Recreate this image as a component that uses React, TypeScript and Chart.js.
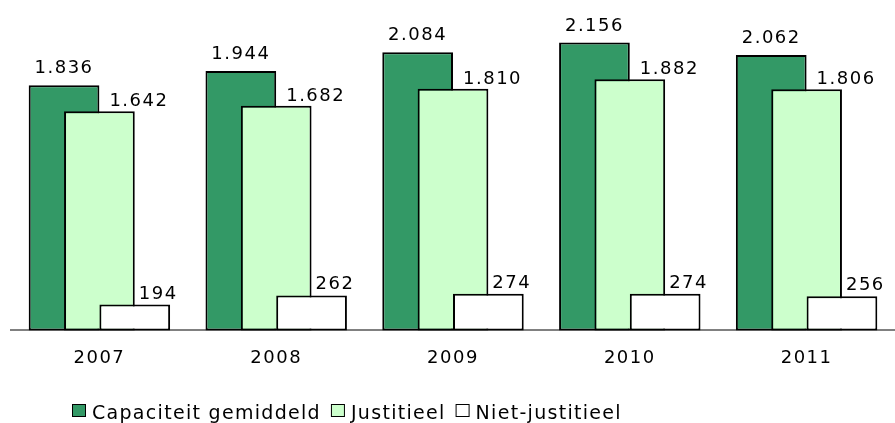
import React, { useEffect, useRef } from "react";
import { Chart, registerables } from "chart.js";

Chart.register(...registerables);

const years = ["2007", "2008", "2009", "2010", "2011"];
const capaciteit = [1836, 1944, 2084, 2156, 2062];
const justitieel = [1642, 1682, 1810, 1882, 1806];
const nietJustitieel = [194, 262, 274, 274, 256];
const seriesNames = ["Capaciteit gemiddeld", "Justitieel", "Niet-justitieel"];

const FONT = "'DejaVu Sans', Verdana, sans-serif";

const fmt = (v: number) => String(v).replace(/\B(?=(\d{3})+(?!\d))/g, ".");

const labelStyle = [
  { align: "center", dx: 0, dy: 12 },
  { align: "left", dx: 10, dy: 5 },
  { align: "left", dx: 4, dy: 6 },
];

const spacingPlugin = {
  id: "spacing",
  beforeDraw(chart: any) {
    chart.ctx.letterSpacing = "1.5px";
  },
};

// draw datasets first-to-last so later series overlap earlier ones
const drawOrderPlugin = {
  id: "drawOrder",
  beforeDatasetsDraw(chart: any) {
    const n = chart.data.datasets.length;
    for (let i = 0; i < n; i++) {
      const meta = chart.getDatasetMeta(i);
      if (meta.visible !== false) meta.controller.draw();
    }
    return false;
  },
};

const dataLabelPlugin = {
  id: "dataLabels",
  afterDraw(chart: any) {
    const ctx = chart.ctx;
    ctx.save();
    ctx.letterSpacing = "1.5px";
    ctx.font = `18px ${FONT}`;
    ctx.fillStyle = "#000";
    ctx.textBaseline = "alphabetic";
    chart.data.datasets.forEach((ds: any, di: number) => {
      const meta = chart.getDatasetMeta(di);
      const st = labelStyle[di];
      ctx.textAlign = st.align;
      meta.data.forEach((el: any, i: number) => {
        ctx.fillText(fmt(ds.data[i]), el.x + st.dx, el.y - st.dy);
      });
    });
    ctx.restore();
  },
};

const legendPlugin = {
  id: "customLegend",
  afterDraw(chart: any) {
    const ctx = chart.ctx;
    ctx.save();
    ctx.letterSpacing = "1.3px";
    ctx.font = `19px ${FONT}`;
    ctx.textBaseline = "alphabetic";
    ctx.textAlign = "left";
    let x = 72;
    const boxTop = 404;
    const baseline = 419;
    chart.data.datasets.forEach((ds: any) => {
      ctx.fillStyle = ds.backgroundColor;
      ctx.fillRect(x + 0.5, boxTop + 0.5, 13, 12);
      ctx.strokeStyle = "#000";
      ctx.lineWidth = 1;
      ctx.strokeRect(x + 0.5, boxTop + 0.5, 13, 12);
      x += 13 + 7;
      ctx.fillStyle = "#000";
      ctx.fillText(ds.label, x, baseline);
      x += ctx.measureText(ds.label).width + 10;
    });
    ctx.restore();
  },
};

export default function App() {
  const canvasRef = useRef<HTMLCanvasElement | null>(null);

  useEffect(() => {
    document.body.style.margin = "0";
    const canvas = canvasRef.current;
    if (!canvas) return;
    const chart = new Chart(canvas, {
      type: "bar",
      data: {
        labels: years,
        datasets: [
          {
            label: seriesNames[0],
            data: capaciteit,
            backgroundColor: "#339966",
            borderColor: "#000",
            borderWidth: 2,
            borderSkipped: false,
          },
          {
            label: seriesNames[1],
            data: justitieel,
            backgroundColor: "#CCFFCC",
            borderColor: "#000",
            borderWidth: 2,
            borderSkipped: false,
          },
          {
            label: seriesNames[2],
            data: nietJustitieel,
            backgroundColor: "#FFFFFF",
            borderColor: "#000",
            borderWidth: 2,
            borderSkipped: false,
          },
        ],
      },
      options: {
        responsive: false,
        animation: false,
        layout: { padding: { top: 10, left: 11, right: -2, bottom: 37 } },
        datasets: {
          bar: { categoryPercentage: 0.6, barPercentage: 2.0 },
        },
        plugins: {
          legend: { display: false },
          tooltip: { enabled: false },
        },
        scales: {
          x: {
            grid: { display: false, drawTicks: false },
            border: { display: true, color: "#808080", width: 2 },
            ticks: {
              color: "#000",
              font: { family: FONT, size: 18 },
              padding: 17,
              maxRotation: 0,
            },
          },
          y: {
            display: false,
            min: 0,
            max: 2400,
          },
        },
      },
      plugins: [spacingPlugin, drawOrderPlugin, dataLabelPlugin, legendPlugin],
    });
    return () => chart.destroy();
  }, []);

  return (
    <div style={{ width: 895, height: 423 }}>
      <canvas ref={canvasRef} width={895} height={423} style={{ display: "block" }} />
    </div>
  );
}
